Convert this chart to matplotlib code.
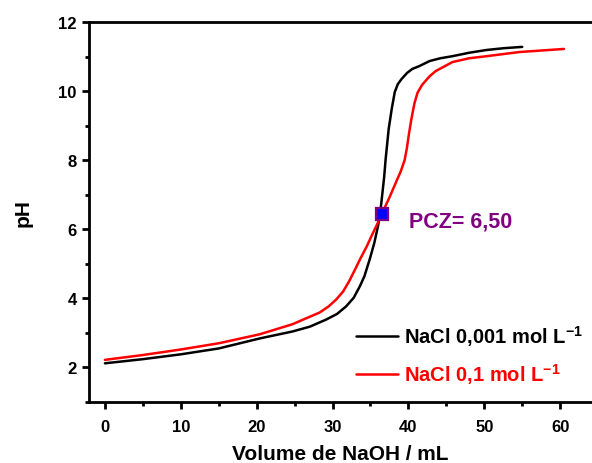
import matplotlib
matplotlib.use("Agg")
import matplotlib.pyplot as plt
from matplotlib.ticker import MultipleLocator

plt.rcParams['font.family'] = ['Liberation Sans', 'DejaVu Sans']
plt.rcParams['font.weight'] = 'bold'
plt.rcParams['mathtext.fontset'] = 'custom'
plt.rcParams['mathtext.rm'] = 'Liberation Sans:bold'
plt.rcParams['mathtext.bf'] = 'Liberation Sans:bold'
plt.rcParams['mathtext.it'] = 'Liberation Sans:bold'

# Data
vol_low = [0, 5, 10, 15, 20.4, 24.7, 27, 29.2, 30.6, 31.8, 32.8, 33.6, 34.2, 34.9, 35.5,
           36.0, 36.3, 36.6, 36.8, 37.0, 37.4, 37.8, 38.2, 38.6, 39.1, 39.8, 40.5, 41.4,
           42.8, 44.2, 45.8, 48, 50.3, 52.5, 55.0]
ph_low = [2.12, 2.24, 2.38, 2.55, 2.84, 3.04, 3.18, 3.39, 3.55, 3.77, 4.02, 4.35, 4.64, 5.13, 5.6,
          6.1, 6.5, 7.1, 7.5, 8.03, 8.9, 9.48, 9.97, 10.2, 10.35, 10.52, 10.64, 10.72,
          10.87, 10.95, 11.01, 11.11, 11.19, 11.24, 11.28]

vol_high = [0, 5, 10, 15, 20.4, 24.7, 28.3, 29.5, 30.5, 31.4, 32.2, 33.0, 33.6, 34.5, 35.3,
            36.0, 36.5, 37.5, 38.4, 39.0, 39.5, 39.8, 40.1, 40.4, 40.8, 41.2, 41.8, 42.8,
            43.6, 45.8, 48, 50.3, 54.6, 60.5]
ph_high = [2.22, 2.36, 2.52, 2.70, 2.96, 3.25, 3.59, 3.77, 3.97, 4.2, 4.5, 4.85, 5.12, 5.5, 5.88,
           6.2, 6.45, 6.92, 7.38, 7.68, 8.0, 8.35, 8.8, 9.2, 9.65, 9.95, 10.18, 10.43,
           10.58, 10.84, 10.95, 11.01, 11.13, 11.22]

pcz_x = [36.5]
pcz_y = [6.45]
label_low = r'NaCl 0,001 mol L$^{-1}$'
label_high = r'NaCl 0,1 mol L$^{-1}$'
pcz_text = 'PCZ= 6,50'

fig = plt.figure(figsize=(5.92, 4.64), dpi=100)
ax = fig.add_axes([89/592, 61/464, 1 - 89/592, 380/464])

ax.plot(vol_low, ph_low, color='black', lw=1.8, label=label_low,
        solid_joinstyle='round', solid_capstyle='round')
ax.plot(vol_high, ph_high, color='red', lw=1.8, label=label_high,
        solid_joinstyle='round', solid_capstyle='round')
ax.plot(pcz_x, pcz_y, marker='s', ms=9, mfc='blue', mec='#800080', mew=1.6,
        ls='none', zorder=5)
ax.text(40.1, 6.23, pcz_text, color='#800080', fontsize=15.5, fontweight='bold',
        va='center', ha='left')

ax.set_xlim(-2.1, 64.2)
ax.set_ylim(1, 12)
ax.xaxis.set_major_locator(MultipleLocator(10))
ax.xaxis.set_minor_locator(MultipleLocator(5))
ax.yaxis.set_major_locator(MultipleLocator(2))
ax.yaxis.set_minor_locator(MultipleLocator(1))

for s in ['left', 'bottom', 'top']:
    ax.spines[s].set_linewidth(2.0)
ax.spines['right'].set_visible(False)

ax.tick_params(which='major', direction='out', length=5, width=2.0, labelsize=12, pad=4)
ax.tick_params(which='minor', direction='out', length=3, width=2.0)
ax.tick_params(axis='x', which='major', pad=7.5)
ax.tick_params(top=False, right=False)
for lbl in ax.get_xticklabels() + ax.get_yticklabels():
    lbl.set_fontweight('bold')

ax.set_xlabel('Volume de NaOH / mL', fontsize=15, fontweight='bold', labelpad=7)
ax.set_ylabel('pH', fontsize=15, fontweight='bold', labelpad=18)

leg = ax.legend(loc='lower left', bbox_to_anchor=(0.503, 0.005), frameon=False,
                fontsize=14.5, labelcolor='linecolor', handlelength=2.1,
                handletextpad=0.3, labelspacing=0.65, borderpad=0.2)
for t in leg.get_texts():
    t.set_fontweight('bold')

fig.savefig('out.png', dpi=100)
